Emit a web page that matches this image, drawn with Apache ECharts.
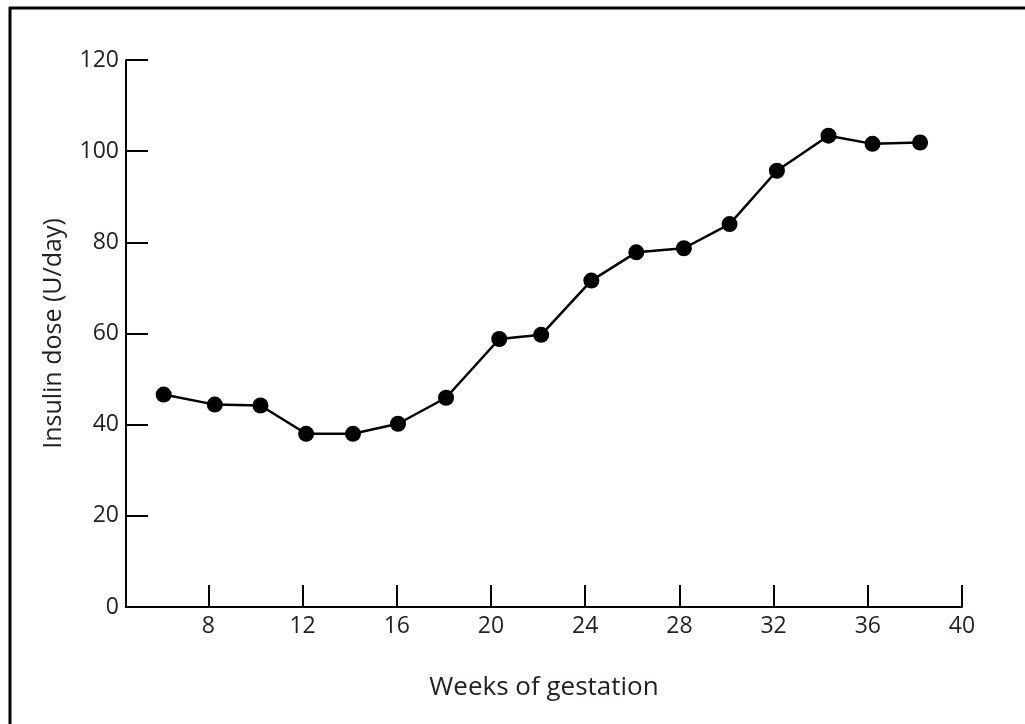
<!DOCTYPE html>
<html>
<head>
<meta charset="utf-8">
<script src="https://cdn.jsdelivr.net/npm/echarts@6/dist/echarts.min.js"></script>
<style>
html,body{margin:0;padding:0;background:#fff;}
#chart{width:1025px;height:724px;}
</style>
</head>
<body>
<div id="chart"></div>
<script>
// Data
var weeks = [6.1, 8.27, 10.21, 12.15, 14.14, 16.05, 18.09, 20.35, 22.13, 24.26, 26.17, 28.19, 30.13, 32.14, 34.33, 36.2, 38.22];
var doses = [46.6, 44.4, 44.2, 38.0, 38.0, 40.2, 45.9, 58.8, 59.7, 71.6, 77.8, 78.7, 84.0, 95.7, 103.4, 101.6, 101.9];
var xTicks = [8, 12, 16, 20, 24, 28, 32, 36, 40];
var yTicks = [0, 20, 40, 60, 80, 100, 120];
var xTitle = 'Weeks of gestation';
var yTitle = 'Insulin dose (U/day)';

var points = weeks.map(function (w, i) { return [w, doses[i]]; });
var font = '"Open Sans", "Noto Sans", sans-serif';
var textColor = '#231f20';

var chart = echarts.init(document.getElementById('chart'), null, {renderer: 'canvas'});
chart.setOption({
  animation: false,
  backgroundColor: '#ffffff',
  grid: {left: 126, top: 60, right: 63, bottom: 117, containLabel: false},
  graphic: [
    {type: 'line', shape: {x1: 9, y1: 8, x2: 1025, y2: 8}, style: {stroke: '#000', lineWidth: 3}},
    {type: 'line', shape: {x1: 10, y1: 7, x2: 10, y2: 724}, style: {stroke: '#000', lineWidth: 3}}
  ],
  xAxis: {
    type: 'value',
    min: 4.5,
    max: 40,
    name: xTitle,
    nameLocation: 'middle',
    nameGap: 68,
    nameTextStyle: {fontFamily: font, fontSize: 26, color: textColor},
    axisLine: {show: true, lineStyle: {color: '#000', width: 2}},
    axisTick: {show: true, inside: true, length: 22, customValues: xTicks, lineStyle: {color: '#000', width: 2}},
    axisLabel: {show: true, customValues: xTicks, margin: 8, fontFamily: font, fontSize: 23, color: textColor},
    splitLine: {show: false}
  },
  yAxis: {
    type: 'value',
    min: 0,
    max: 120,
    interval: 20,
    name: yTitle,
    nameLocation: 'middle',
    nameGap: 60,
    nameRotate: 90,
    nameTextStyle: {fontFamily: font, fontSize: 25, color: textColor},
    axisLine: {show: true, lineStyle: {color: '#000', width: 2}},
    axisTick: {show: true, inside: true, length: 22, lineStyle: {color: '#000', width: 2}},
    axisLabel: {
      show: true, margin: 7, fontFamily: font, fontSize: 23, color: textColor,
      formatter: function (v) { return yTicks.indexOf(v) >= 0 ? String(v) : ''; }
    },
    splitLine: {show: false}
  },
  series: [{
    type: 'line',
    data: points,
    symbol: 'circle',
    symbolSize: 16,
    itemStyle: {color: '#000'},
    lineStyle: {color: '#000', width: 2.5},
    z: 3
  }]
});
</script>
</body>
</html>
